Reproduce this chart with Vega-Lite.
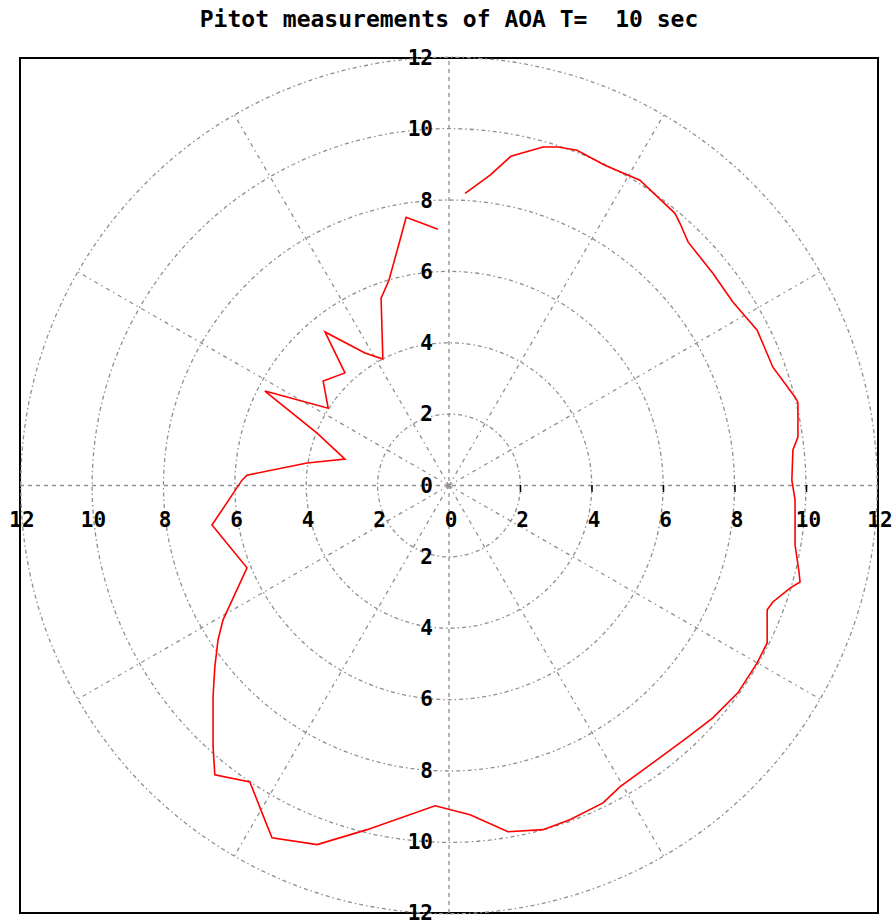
{
  "$schema": "https://vega.github.io/schema/vega-lite/v6.json",
  "width": 858,
  "height": 855,
  "autosize": {"type": "none"},
  "padding": {"left": 20, "top": 58, "right": 15, "bottom": 10},
  "background": "white",
  "title": {
    "text": "Pitot measurements of AOA T=\u00a0 10 sec",
    "font": "DejaVu Sans Mono",
    "fontSize": 23,
    "fontWeight": "bold",
    "anchor": "middle",
    "offset": 16,
    "color": "black"
  },
  "config": {
    "view": {"stroke": "black", "strokeWidth": 2},
    "axis": {"disable": true}
  },
  "datasets": {
    "rings": [{"r": 2}, {"r": 4}, {"r": 6}, {"r": 8}, {"r": 10}, {"r": 12}],
    "spokes": [
      {"x": 0, "y": 0, "x2": 10.392, "y2": 6},
      {"x": 0, "y": 0, "x2": 6, "y2": 10.392},
      {"x": 0, "y": 0, "x2": -6, "y2": 10.392},
      {"x": 0, "y": 0, "x2": -10.392, "y2": 6},
      {"x": 0, "y": 0, "x2": -10.392, "y2": -6},
      {"x": 0, "y": 0, "x2": -6, "y2": -10.392},
      {"x": 0, "y": 0, "x2": 6, "y2": -10.392},
      {"x": 0, "y": 0, "x2": 10.392, "y2": -6}
    ],
    "axes": [
      {"x": -12, "y": 0, "x2": 12, "y2": 0},
      {"x": 0, "y": -12, "x2": 0, "y2": 12}
    ],
    "ticks": [{"v": 2}, {"v": 4}, {"v": 6}, {"v": 8}, {"v": 10}],
    "hlabels": [
      {"label": "12", "v": -12}, {"label": "10", "v": -10}, {"label": "8", "v": -8},
      {"label": "6", "v": -6}, {"label": "4", "v": -4}, {"label": "2", "v": -2},
      {"label": "0", "v": 0}, {"label": "2", "v": 2}, {"label": "4", "v": 4},
      {"label": "6", "v": 6}, {"label": "8", "v": 8}, {"label": "10", "v": 10},
      {"label": "12", "v": 12}
    ],
    "vlabels": [
      {"label": "12", "v": 12}, {"label": "10", "v": 10}, {"label": "8", "v": 8},
      {"label": "6", "v": 6}, {"label": "4", "v": 4}, {"label": "2", "v": 2},
      {"label": "0", "v": 0}, {"label": "2", "v": -2}, {"label": "4", "v": -4},
      {"label": "6", "v": -6}, {"label": "8", "v": -8}, {"label": "10", "v": -10},
      {"label": "12", "v": -12}
    ],
    "aoa": [
      {"i": 1, "x": 0.45, "y": 8.20},
      {"i": 2, "x": 1.15, "y": 8.71},
      {"i": 3, "x": 1.73, "y": 9.24},
      {"i": 4, "x": 2.63, "y": 9.50},
      {"i": 5, "x": 3.05, "y": 9.50},
      {"i": 6, "x": 3.58, "y": 9.41},
      {"i": 7, "x": 4.36, "y": 8.99},
      {"i": 8, "x": 5.34, "y": 8.57},
      {"i": 9, "x": 6.32, "y": 7.64},
      {"i": 10, "x": 6.46, "y": 7.36},
      {"i": 11, "x": 6.69, "y": 6.83},
      {"i": 12, "x": 7.38, "y": 5.96},
      {"i": 13, "x": 7.94, "y": 5.15},
      {"i": 14, "x": 8.62, "y": 4.36},
      {"i": 15, "x": 9.06, "y": 3.32},
      {"i": 16, "x": 9.68, "y": 2.48},
      {"i": 17, "x": 9.76, "y": 2.34},
      {"i": 18, "x": 9.76, "y": 1.36},
      {"i": 19, "x": 9.62, "y": 1.00},
      {"i": 20, "x": 9.59, "y": 0.15},
      {"i": 21, "x": 9.68, "y": -0.41},
      {"i": 22, "x": 9.68, "y": -1.67},
      {"i": 23, "x": 9.79, "y": -2.43},
      {"i": 24, "x": 9.82, "y": -2.71},
      {"i": 25, "x": 9.54, "y": -2.88},
      {"i": 26, "x": 9.06, "y": -3.27},
      {"i": 27, "x": 8.90, "y": -3.49},
      {"i": 28, "x": 8.90, "y": -4.42},
      {"i": 29, "x": 8.62, "y": -4.98},
      {"i": 30, "x": 8.08, "y": -5.82},
      {"i": 31, "x": 7.38, "y": -6.52},
      {"i": 32, "x": 6.66, "y": -7.08},
      {"i": 33, "x": 5.71, "y": -7.78},
      {"i": 34, "x": 4.78, "y": -8.46},
      {"i": 35, "x": 4.31, "y": -8.91},
      {"i": 36, "x": 3.38, "y": -9.38},
      {"i": 37, "x": 2.63, "y": -9.66},
      {"i": 38, "x": 1.65, "y": -9.72},
      {"i": 39, "x": 0.59, "y": -9.24},
      {"i": 40, "x": -0.39, "y": -8.99},
      {"i": 41, "x": -2.29, "y": -9.66},
      {"i": 42, "x": -3.69, "y": -10.08},
      {"i": 43, "x": -4.95, "y": -9.89},
      {"i": 44, "x": -5.23, "y": -9.19},
      {"i": 45, "x": -5.57, "y": -8.32},
      {"i": 46, "x": -6.55, "y": -8.12},
      {"i": 47, "x": -6.60, "y": -7.33},
      {"i": 48, "x": -6.60, "y": -5.93},
      {"i": 49, "x": -6.55, "y": -5.09},
      {"i": 50, "x": -6.46, "y": -4.33},
      {"i": 51, "x": -6.32, "y": -3.77},
      {"i": 52, "x": -5.65, "y": -2.31},
      {"i": 53, "x": -6.63, "y": -1.11},
      {"i": 54, "x": -5.79, "y": 0.15},
      {"i": 55, "x": -5.65, "y": 0.29},
      {"i": 56, "x": -3.97, "y": 0.63},
      {"i": 57, "x": -2.91, "y": 0.74},
      {"i": 58, "x": -3.69, "y": 1.47},
      {"i": 59, "x": -5.15, "y": 2.65},
      {"i": 60, "x": -3.38, "y": 2.17},
      {"i": 61, "x": -3.52, "y": 2.93},
      {"i": 62, "x": -2.91, "y": 3.16},
      {"i": 63, "x": -3.47, "y": 4.31},
      {"i": 64, "x": -2.35, "y": 3.72},
      {"i": 65, "x": -1.85, "y": 3.55},
      {"i": 66, "x": -1.90, "y": 5.26},
      {"i": 67, "x": -1.68, "y": 5.76},
      {"i": 68, "x": -1.37, "y": 6.89},
      {"i": 69, "x": -1.20, "y": 7.53},
      {"i": 70, "x": -0.31, "y": 7.19}
    ]
  },
  "layer": [
    {
      "data": {"name": "rings"},
      "mark": {"type": "point", "shape": "circle", "filled": false, "stroke": "#8f8f8f", "strokeWidth": 1.3, "strokeDash": [4, 3, 1.5, 3], "opacity": 1},
      "encoding": {
        "x": {"datum": 0, "type": "quantitative", "scale": {"domain": [-12, 12], "nice": false, "zero": false}},
        "y": {"datum": 0, "type": "quantitative", "scale": {"domain": [-12, 12], "nice": false, "zero": false}},
        "size": {"field": "r", "type": "quantitative", "legend": null, "scale": {"type": "pow", "exponent": 2, "domain": [0, 12], "range": [0, 733600]}}
      }
    },
    {
      "data": {"name": "spokes"},
      "mark": {"type": "rule", "stroke": "#8f8f8f", "strokeWidth": 1.3, "strokeDash": [4, 4, 1.5, 4]},
      "encoding": {
        "x": {"field": "x", "type": "quantitative"},
        "y": {"field": "y", "type": "quantitative"},
        "x2": {"field": "x2"},
        "y2": {"field": "y2"}
      }
    },
    {
      "data": {"name": "axes"},
      "mark": {"type": "rule", "stroke": "#8f8f8f", "strokeWidth": 1.3, "strokeDash": [4, 4]},
      "encoding": {
        "x": {"field": "x", "type": "quantitative"},
        "y": {"field": "y", "type": "quantitative"},
        "x2": {"field": "x2"},
        "y2": {"field": "y2"}
      }
    },
    {
      "data": {"name": "ticks"},
      "mark": {"type": "tick", "orient": "vertical", "color": "black", "size": 7, "thickness": 1.5, "yOffset": 3, "opacity": 1},
      "encoding": {
        "x": {"field": "v", "type": "quantitative"},
        "y": {"datum": 0, "type": "quantitative"}
      }
    },
    {
      "data": {"name": "aoa"},
      "mark": {"type": "line", "color": "#ff0000", "strokeWidth": 1.6},
      "encoding": {
        "x": {"field": "x", "type": "quantitative"},
        "y": {"field": "y", "type": "quantitative"},
        "order": {"field": "i", "type": "quantitative"}
      }
    },
    {
      "data": {"name": "hlabels"},
      "mark": {"type": "text", "font": "DejaVu Sans Mono", "fontSize": 21, "fontWeight": "bold", "color": "black", "align": "center", "baseline": "middle", "dx": 2, "dy": 35},
      "encoding": {
        "x": {"field": "v", "type": "quantitative"},
        "y": {"datum": 0, "type": "quantitative"},
        "text": {"field": "label"}
      }
    },
    {
      "data": {"name": "vlabels"},
      "mark": {"type": "text", "font": "DejaVu Sans Mono", "fontSize": 21, "fontWeight": "bold", "color": "black", "align": "right", "baseline": "middle", "dx": -16, "dy": 1},
      "encoding": {
        "x": {"datum": 0, "type": "quantitative"},
        "y": {"field": "v", "type": "quantitative"},
        "text": {"field": "label"}
      }
    }
  ]
}
